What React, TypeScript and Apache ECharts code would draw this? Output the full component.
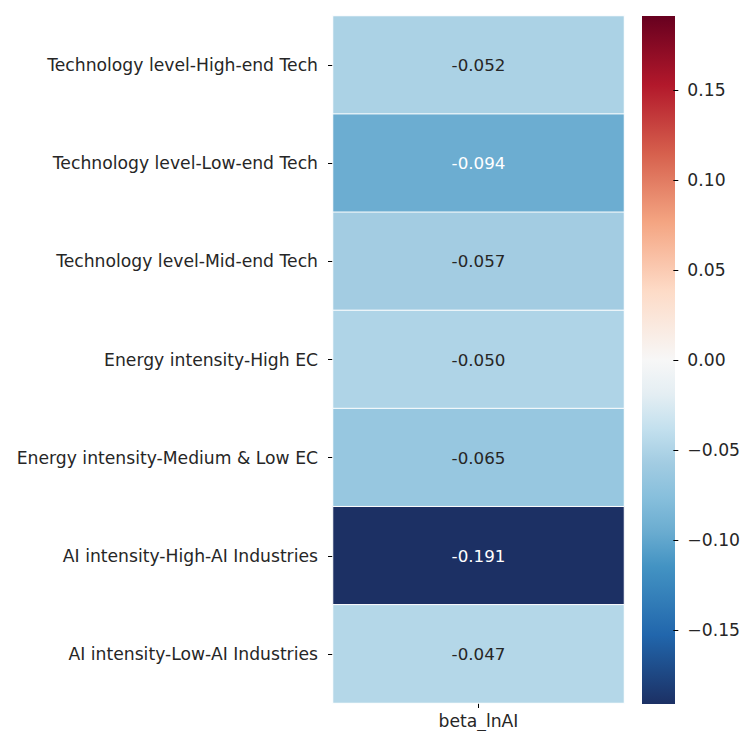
import React, { useEffect, useRef } from "react";
import * as echarts from "echarts";

const rowLabels = [
  "Technology level-High-end Tech",
  "Technology level-Low-end Tech",
  "Technology level-Mid-end Tech",
  "Energy intensity-High EC",
  "Energy intensity-Medium & Low EC",
  "AI intensity-High-AI Industries",
  "AI intensity-Low-AI Industries",
];
const colLabels = ["beta_lnAI"];
const betaValues = [-0.052, -0.094, -0.057, -0.05, -0.065, -0.191, -0.047];
const colorbarTicks = [-0.15, -0.1, -0.05, 0, 0.05, 0.1, 0.15];
const vMin = -0.191;
const vMax = 0.191;
// RdBu_r colormap, low -> high, evenly spaced stops
const rdBuR = [
  "#1c3064", "#1e4b88", "#2166ac", "#327db8", "#4393c3", "#6aacd0",
  "#87bfdc", "#a2cce2", "#c3e0ee", "#e4eef3", "#f7f7f7", "#fae9df",
  "#fddbc7", "#f9c0a5", "#f4a582", "#e58368", "#d6604d", "#c43c3c",
  "#b2182b", "#8d0c25", "#67001f",
];

const FONT = "DejaVu Sans";
const FS = 17.2;

export default function App() {
  const ref = useRef<HTMLDivElement>(null);
  useEffect(() => {
    if (!ref.current) return;
    const chart = echarts.init(ref.current, null, { renderer: "svg" });
    const data = betaValues.map((v, i) => {
      const norm = (v - vMin) / (vMax - vMin);
      const light = norm > 0.3 && norm < 0.75;
      return {
        value: [0, i, v],
        label: { color: light ? "#262626" : "#ffffff" },
      };
    });
    const gradStops = rdBuR
      .slice()
      .reverse()
      .map((c, i) => ({ offset: i / (rdBuR.length - 1), color: c }));
    chart.setOption({
      animation: false,
      textStyle: { fontFamily: FONT },
      grid: [
        { left: 333, top: 16, width: 291, height: 687 },
        { left: 642, top: 16, width: 33, height: 688 },
      ],
      xAxis: [
        {
          type: "category",
          gridIndex: 0,
          data: colLabels,
          position: "bottom",
          axisLine: { show: false },
          axisTick: { show: true, alignWithLabel: true, length: 5, lineStyle: { color: "#000", width: 1 } },
          axisLabel: { fontSize: FS, color: "#262626", margin: 9, fontFamily: FONT },
          splitLine: { show: false },
        },
        {
          type: "category",
          gridIndex: 1,
          data: [""],
          show: false,
        },
      ],
      yAxis: [
        {
          type: "category",
          gridIndex: 0,
          data: rowLabels,
          inverse: true,
          axisLine: { show: false },
          axisTick: { show: true, alignWithLabel: true, length: 5, lineStyle: { color: "#000", width: 1 } },
          axisLabel: { fontSize: FS, color: "#262626", margin: 15, fontFamily: FONT },
          splitLine: { show: false },
        },
        {
          type: "value",
          gridIndex: 1,
          min: vMin,
          max: vMax,
          position: "right",
          axisLine: { show: false },
          splitLine: { show: false },
          axisTick: {
            show: true,
            length: 5,
            customValues: colorbarTicks,
            lineStyle: { color: "#000", width: 1 },
          },
          axisLabel: {
            fontSize: FS,
            color: "#262626",
            margin: 14,
            fontFamily: FONT,
            customValues: colorbarTicks,
            formatter: (v: number) => (v < -1e-9 ? "\u2212" + Math.abs(v).toFixed(2) : Math.abs(v).toFixed(2)),
          },
        },
      ],
      visualMap: {
        type: "continuous",
        show: false,
        min: vMin,
        max: vMax,
        dimension: 2,
        seriesIndex: 0,
        inRange: { color: rdBuR },
      },
      graphic: [
        {
          type: "rect",
          shape: { x: 642, y: 16, width: 33, height: 688 },
          z: -1,
          style: {
            fill: new echarts.graphic.LinearGradient(0, 0, 0, 1, gradStops),
          },
        },
      ],
      series: [
        {
          type: "heatmap",
          xAxisIndex: 0,
          yAxisIndex: 0,
          data,
          itemStyle: { borderColor: "#ffffff", borderWidth: 1 },
          label: {
            show: true,
            fontSize: FS - 0.5,
            fontFamily: FONT,
            formatter: (p: any) => p.value[2].toFixed(3),
          },
          emphasis: { disabled: true },
        },
      ],
    });
    return () => chart.dispose();
  }, []);
  return (
    <div
      ref={ref}
      style={{ position: "fixed", left: 0, top: 0, width: 743, height: 731, background: "#fff" }}
    />
  );
}
